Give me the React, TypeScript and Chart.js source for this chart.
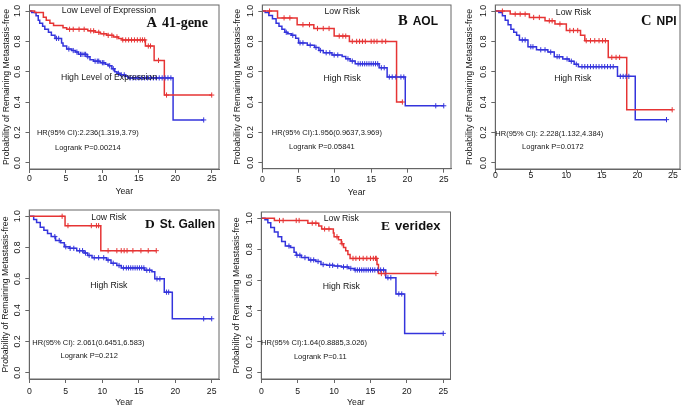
import React, { useEffect, useRef } from "react";
import { Chart, registerables } from "chart.js";
Chart.register(...registerables);

// ---------- shared axis data ----------
const xTicks = [0, 5, 10, 15, 20, 25];
const xTickLabels = ["0", "5", "10", "15", "20", "25"];
const yTicks = [0, 0.2, 0.4, 0.6, 0.8, 1.0];
const yTickLabels = ["0.0", "0.2", "0.4", "0.6", "0.8", "1.0"];
const yAxisTitle = "Probability of Remaining Metastasis-free";
const xAxisTitle = "Year";

// ---------- Panel A: 41-gene ----------
const lowA_t = [0, 0.7, 1.9, 2.3, 2.8, 3.3, 4.6, 5.1, 8.0, 9.0, 9.7, 10.6, 11.5, 12.2, 12.7, 15.9, 17.1, 18.5, 25.0];
const lowA_s = [1, 0.99, 0.96, 0.94, 0.92, 0.905, 0.89, 0.88, 0.87, 0.86, 0.85, 0.84, 0.83, 0.82, 0.81, 0.77, 0.675, 0.447, 0.447];
const lowA_c = [5.5, 6.0, 6.8, 7.5, 8.4, 8.8, 9.5, 10.2, 10.8, 11.3, 12.0, 12.8, 13.2, 13.6, 14.0, 14.4, 14.8, 15.2, 15.5, 15.8, 16.3, 16.6, 17.7, 18.8, 25.0];
const highA_t = [0, 0.3, 0.9, 1.2, 1.4, 1.8, 2.1, 2.6, 3.0, 3.5, 4.4, 4.6, 5.1, 5.8, 6.3, 6.7, 7.9, 8.3, 8.8, 9.7, 10.4, 10.8, 11.3, 11.7, 12.0, 12.4, 13.1, 13.5, 19.7, 23.9];
const highA_s = [1, 0.99, 0.97, 0.94, 0.92, 0.9, 0.88, 0.86, 0.84, 0.82, 0.79, 0.77, 0.75, 0.74, 0.73, 0.715, 0.7, 0.68, 0.67, 0.66, 0.65, 0.64, 0.62, 0.6, 0.59, 0.58, 0.57, 0.56, 0.283, 0.283];
const highA_c = [3.7, 4.0, 5.4, 6.0, 6.5, 7.0, 7.2, 7.5, 7.7, 8.0, 9.0, 9.3, 9.5, 10.0, 10.2, 11.0, 11.5, 12.2, 12.6, 13.0, 13.8, 14.2, 14.6, 15.0, 15.4, 15.8, 16.2, 16.6, 17.0, 17.4, 17.8, 18.2, 18.6, 19.0, 19.4, 23.9];

// ---------- Panel B: AOL ----------
const lowB_t = [0, 2.1, 4.8, 7.1, 9.9, 12.0, 18.5, 19.3];
const lowB_s = [1, 0.955, 0.91, 0.885, 0.835, 0.8, 0.4, 0.4];
const lowB_c = [1.0, 3.0, 3.8, 5.6, 6.5, 7.6, 8.4, 9.2, 10.6, 11.1, 11.5, 12.4, 13.0, 13.4, 13.8, 14.2, 15.0, 15.4, 15.8, 16.5, 17.0, 19.3];
const highB_t = [0, 0.4, 0.9, 1.4, 1.9, 2.3, 2.7, 3.1, 3.5, 4.0, 4.6, 5.0, 6.2, 7.2, 7.8, 8.4, 9.6, 11.0, 11.5, 12.1, 12.8, 16.1, 17.2, 19.7, 25.0];
const highB_s = [1, 0.99, 0.97, 0.95, 0.92, 0.9, 0.88, 0.86, 0.85, 0.84, 0.82, 0.79, 0.775, 0.76, 0.74, 0.725, 0.71, 0.7, 0.685, 0.67, 0.652, 0.626, 0.565, 0.375, 0.375];
const highB_c = [3.3, 4.2, 5.2, 5.6, 6.6, 7.4, 8.0, 8.8, 9.3, 9.9, 10.4, 11.8, 12.4, 13.2, 13.5, 13.8, 14.1, 14.4, 14.7, 15.0, 15.3, 15.6, 15.9, 16.4, 16.8, 17.5, 17.9, 18.4, 19.1, 19.5, 23.9, 25.0];

// ---------- Panel C: NPI ----------
const lowC_t = [0, 2.1, 4.8, 7.0, 8.4, 10.0, 12.0, 12.6, 15.9, 18.5, 24.9];
const lowC_s = [1, 0.98, 0.958, 0.936, 0.915, 0.872, 0.84, 0.805, 0.695, 0.35, 0.35];
const lowC_c = [1.0, 2.8, 3.5, 4.2, 5.4, 6.2, 7.6, 8.0, 9.1, 10.5, 11.0, 11.6, 12.8, 13.4, 14.0, 14.6, 15.1, 15.5, 16.4, 17.0, 17.5, 24.9];
const highC_t = [0, 0.5, 1.0, 1.4, 1.8, 2.2, 2.6, 3.0, 3.4, 4.6, 5.8, 7.4, 8.3, 9.5, 10.4, 11.1, 11.7, 17.2, 19.7, 24.1];
const highC_s = [1, 0.99, 0.97, 0.94, 0.91, 0.88, 0.86, 0.84, 0.81, 0.765, 0.745, 0.73, 0.7, 0.685, 0.67, 0.65, 0.634, 0.57, 0.285, 0.285];
const highC_c = [3.8, 4.2, 5.0, 5.3, 6.4, 7.0, 7.8, 8.7, 9.0, 10.1, 10.7, 11.4, 12.2, 12.6, 13.0, 13.4, 13.8, 14.2, 14.6, 15.0, 15.4, 15.8, 16.2, 16.6, 17.6, 18.0, 18.4, 18.8, 24.1];

// ---------- Panel D: St. Gallen ----------
const lowD_t = [0, 4.9, 9.8, 17.4];
const lowD_s = [1, 0.94, 0.78, 0.78];
const lowD_c = [4.5, 5.3, 8.5, 9.2, 9.5, 10.8, 12.0, 12.6, 13.0, 13.4, 14.2, 15.3, 16.3, 17.4];
const highD_t = [0, 0.6, 1.0, 1.5, 2.0, 2.5, 3.0, 3.6, 4.3, 4.8, 5.5, 6.5, 7.5, 8.0, 8.6, 10.6, 11.2, 12.0, 12.6, 15.8, 16.8, 17.2, 18.5, 19.6, 25.0];
const highD_s = [1, 0.98, 0.96, 0.93, 0.91, 0.89, 0.87, 0.845, 0.83, 0.805, 0.795, 0.78, 0.765, 0.75, 0.735, 0.72, 0.7, 0.685, 0.67, 0.655, 0.645, 0.6, 0.515, 0.345, 0.345];
const highD_c = [3.5, 4.1, 5.0, 5.6, 6.1, 6.9, 7.3, 7.7, 8.2, 8.9, 9.5, 10.2, 10.8, 11.5, 12.3, 12.9, 13.3, 13.6, 13.9, 14.2, 14.5, 14.8, 15.1, 15.4, 15.7, 16.1, 16.5, 17.5, 17.9, 18.8, 19.1, 23.9, 25.0];

// ---------- Panel E: veridex ----------
const lowE_t = [0, 1.8, 6.4, 7.9, 8.3, 9.9, 10.0, 10.6, 11.0, 11.3, 11.6, 11.9, 12.2, 15.9, 16.1, 24.0];
const lowE_s = [1, 0.985, 0.968, 0.95, 0.93, 0.905, 0.88, 0.86, 0.835, 0.81, 0.79, 0.765, 0.74, 0.7, 0.642, 0.642];
const lowE_c = [2.5, 3.0, 4.8, 5.2, 7.0, 7.5, 8.7, 9.3, 10.4, 11.1, 12.6, 13.0, 13.5, 14.0, 14.5, 15.0, 15.4, 15.7, 15.8, 16.5, 17.0, 24.0];
const highE_t = [0, 0.5, 0.9, 1.3, 1.8, 2.3, 2.8, 3.3, 4.0, 4.5, 4.8, 5.5, 6.5, 7.5, 8.2, 9.0, 10.0, 11.0, 12.0, 12.8, 17.1, 18.5, 19.7, 25.0];
const highE_s = [1, 0.99, 0.97, 0.94, 0.91, 0.88, 0.85, 0.82, 0.81, 0.78, 0.76, 0.745, 0.73, 0.72, 0.7, 0.695, 0.69, 0.685, 0.675, 0.665, 0.615, 0.51, 0.255, 0.255];
const highE_c = [3.8, 4.9, 5.3, 6.0, 6.8, 7.2, 7.8, 8.5, 9.4, 9.8, 10.5, 11.3, 11.8, 12.3, 12.9, 13.2, 13.5, 13.8, 14.1, 14.4, 14.7, 15.0, 15.3, 15.6, 16.0, 16.4, 16.8, 17.4, 17.8, 18.9, 19.3, 25.0];

// ---------- styles ----------
const RED = "#e63434";
const BLUE = "#3434dc";
const FRAME = "#666666";
const TEXT = "#161616";
const SANS = '"Liberation Sans", Arial, Helvetica, sans-serif';
const SERIF = '"Liberation Serif", "Times New Roman", serif';
const SMALL = 8.7;
const STAT = 7.5;

type Series = { t: number[]; s: number[]; c: number[] };
type Spec = {
  letter: string;
  name: string;
  nameSerif: boolean;
  letterSize: number;
  nameSize: number;
  lowLabel: string;
  highLabel: string;
  hr: string;
  logrank: string;
  low: Series;
  high: Series;
  box: { x: number; y: number; w: number; h: number };
  area: { l: number; t: number; r: number; b: number };
  lowPos: [number, number];
  highPos: [number, number];
  hrPos: [number, number];
  lrPos: [number, number];
  titleOff: [number, number];
  tickPad: number;
  yearOff: number | null;
  yTitleOff: number;
};

const specs: Spec[] = [
  {
    letter: "A", name: "41-gene", nameSerif: true, letterSize: 14.5, nameSize: 14,
    lowLabel: "Low Level of Expression", highLabel: "High Level of Expression",
    hr: "HR(95% CI):2.236(1.319,3.79)", logrank: "Logrank P=0.00214",
    low: { t: lowA_t, s: lowA_s, c: lowA_c }, high: { t: highA_t, s: highA_s, c: highA_c },
    box: { x: 0, y: 0, w: 228, h: 200 }, area: { l: 29.5, t: 0, r: 219, b: 169 },
    lowPos: [10.9, 1.0], highPos: [10.9, 0.56], hrPos: [8.0, 0.2], lrPos: [8.0, 0.1],
    titleOff: [117, 21.5], tickPad: 1.5, yearOff: 22.7, yTitleOff: 23,
  },
  {
    letter: "B", name: "AOL", nameSerif: false, letterSize: 14.5, nameSize: 12,
    lowLabel: "Low Risk", highLabel: "High Risk",
    hr: "HR(95% CI):1.956(0.9637,3.969)", logrank: "Logrank P=0.05841",
    low: { t: lowB_t, s: lowB_s, c: lowB_c }, high: { t: highB_t, s: highB_s, c: highB_c },
    box: { x: 228, y: 0, w: 228, h: 200 }, area: { l: 262.3, t: 0, r: 451, b: 168.7 },
    lowPos: [11.0, 0.995], highPos: [11.0, 0.556], hrPos: [8.9, 0.199], lrPos: [8.2, 0.103],
    titleOff: [135.7, 19.5], tickPad: 3, yearOff: 24, yTitleOff: 24.6,
  },
  {
    letter: "C", name: "NPI", nameSerif: false, letterSize: 14.5, nameSize: 12,
    lowLabel: "Low Risk", highLabel: "High Risk",
    hr: "HR(95% CI): 2.228(1.132,4.384)", logrank: "Logrank P=0.0172",
    low: { t: lowC_t, s: lowC_s, c: lowC_c }, high: { t: highC_t, s: highC_s, c: highC_c },
    box: { x: 456, y: 0, w: 229, h: 200 }, area: { l: 495.3, t: 0.5, r: 684, b: 169 },
    lowPos: [11.0, 0.99], highPos: [10.9, 0.557], hrPos: [7.6, 0.193], lrPos: [8.1, 0.106],
    titleOff: [145.7, 19.5], tickPad: -1.5, yearOff: null, yTitleOff: 26,
  },
  {
    letter: "D", name: "St. Gallen", nameSerif: false, letterSize: 13.5, nameSize: 12,
    lowLabel: "Low Risk", highLabel: "High Risk",
    hr: "HR(95% CI): 2.061(0.6451,6.583)", logrank: "Logrank P=0.212",
    low: { t: lowD_t, s: lowD_s, c: lowD_c }, high: { t: highD_t, s: highD_s, c: highD_c },
    box: { x: 0, y: 200, w: 228, h: 208 }, area: { l: 29.3, t: 210, r: 219, b: 379 },
    lowPos: [10.9, 0.99], highPos: [10.9, 0.555], hrPos: [8.1, 0.19], lrPos: [8.2, 0.105],
    titleOff: [115.7, 17.5], tickPad: 4, yearOff: 23.6, yTitleOff: 24,
  },
  {
    letter: "E", name: "veridex", nameSerif: false, letterSize: 13.5, nameSize: 13,
    lowLabel: "Low Risk", highLabel: "High Risk",
    hr: "HR(95% CI):1.64(0.8885,3.026)", logrank: "Logrank P=0.11",
    low: { t: lowE_t, s: lowE_s, c: lowE_c }, high: { t: highE_t, s: highE_s, c: highE_c },
    box: { x: 228, y: 200, w: 228, h: 208 }, area: { l: 261.3, t: 212, r: 450.5, b: 379 },
    lowPos: [11.0, 0.995], highPos: [11.0, 0.557], hrPos: [7.25, 0.193], lrPos: [8.1, 0.1],
    titleOff: [119.7, 17.5], tickPad: 4, yearOff: 23.3, yTitleOff: 25,
  },
];

function survAt(t: number[], s: number[], x: number) {
  let v = s[0];
  for (let i = 0; i < t.length; i++) if (t[i] <= x) v = s[i];
  return v;
}

function Panel({ spec }: { spec: Spec }) {
  const ref = useRef<HTMLCanvasElement | null>(null);
  useEffect(() => {
    const { box, area } = spec;
    const L = area.l - box.x;
    const T = area.t - box.y;
    const R = area.r - box.x;
    const B = area.b - box.y;

    const curve = (ser: Series, color: string) => ({
      data: ser.t.map((x, i) => ({ x, y: ser.s[i] })),
      stepped: "before" as const,
      borderColor: color,
      borderWidth: 1.5,
      pointRadius: 0,
      fill: false,
      order: 1,
    });
    const censor = (ser: Series, color: string) => ({
      data: ser.c.map((x) => ({ x, y: survAt(ser.t, ser.s, x) })),
      showLine: false,
      pointStyle: "cross" as const,
      pointRadius: 2.6,
      borderColor: color,
      backgroundColor: color,
      borderWidth: 1,
      order: 0,
    });

    const textPlugin = {
      id: "kmText",
      afterDraw(chart: any) {
        const ctx = chart.ctx as CanvasRenderingContext2D;
        const ca = chart.chartArea;
        const xs = chart.scales.x;
        const ys = chart.scales.y;
        ctx.save();
        // frame
        ctx.strokeStyle = FRAME;
        ctx.lineWidth = 1;
        ctx.strokeRect(ca.left, ca.top, ca.right - ca.left, ca.bottom - ca.top);
        ctx.fillStyle = TEXT;
        ctx.font = `${SMALL}px ${SANS}`;
        // rotated y tick labels
        yTicks.forEach((v, i) => {
          const py = ys.getPixelForValue(v);
          ctx.save();
          ctx.translate(ca.left - 11.5, py);
          ctx.rotate(-Math.PI / 2);
          ctx.textAlign = "center";
          ctx.textBaseline = "middle";
          ctx.fillText(yTickLabels[i], 0, 0);
          ctx.restore();
        });
        // y title
        ctx.save();
        ctx.translate(ca.left - spec.yTitleOff, (ca.top + ca.bottom) / 2);
        ctx.rotate(-Math.PI / 2);
        ctx.textAlign = "center";
        ctx.textBaseline = "middle";
        ctx.fillText(yAxisTitle, 0, 0);
        ctx.restore();
        // x title
        if (spec.yearOff !== null) {
          ctx.textAlign = "center";
          ctx.textBaseline = "middle";
          ctx.fillText(xAxisTitle, (ca.left + ca.right) / 2, ca.bottom + spec.yearOff);
        }
        // annotations at data coordinates
        ctx.textAlign = "center";
        ctx.textBaseline = "middle";
        const put = (txt: string, p: [number, number]) =>
          ctx.fillText(txt, xs.getPixelForValue(p[0]), ys.getPixelForValue(p[1]));
        put(spec.lowLabel, spec.lowPos);
        put(spec.highLabel, spec.highPos);
        ctx.font = `${STAT}px ${SANS}`;
        put(spec.hr, spec.hrPos);
        put(spec.logrank, spec.lrPos);
        // panel title
        ctx.textAlign = "left";
        ctx.textBaseline = "alphabetic";
        const tx = ca.left + spec.titleOff[0];
        const ty = ca.top + spec.titleOff[1];
        ctx.fillStyle = "#111";
        ctx.font = `bold ${spec.letterSize}px ${SERIF}`;
        ctx.fillText(spec.letter, tx, ty);
        const lw = ctx.measureText(spec.letter).width;
        ctx.font = `bold ${spec.nameSize}px ${spec.nameSerif ? SERIF : SANS}`;
        ctx.fillText(spec.name, tx + lw + 5, ty);
        ctx.restore();
      },
    };

    const chart = new Chart(ref.current as HTMLCanvasElement, {
      type: "line",
      data: {
        datasets: [
          curve(spec.low, RED),
          curve(spec.high, BLUE),
          censor(spec.low, RED),
          censor(spec.high, BLUE),
        ] as any,
      },
      options: {
        responsive: false,
        animation: false,
        events: [],
        layout: { padding: { left: 0, top: T, right: box.w - R, bottom: 0 } },
        plugins: { legend: { display: false }, tooltip: { enabled: false } },
        scales: {
          x: {
            type: "linear",
            min: 0,
            max: 26,
            afterBuildTicks: (s: any) => {
              s.ticks = xTicks.map((v) => ({ value: v }));
            },
            afterFit: (s: any) => {
              s.height = box.h - B;
            },
            grid: { drawOnChartArea: false, drawTicks: true, tickLength: 4, color: FRAME },
            border: { display: true, color: FRAME },
            ticks: {
              autoSkip: false,
              maxRotation: 0,
              minRotation: 0,
              padding: spec.tickPad,
              color: TEXT,
              font: { family: SANS, size: SMALL, lineHeight: 1 },
              callback: (_v: any, i: number) => xTickLabels[i],
            },
          },
          y: {
            type: "linear",
            min: -0.04,
            max: 1.04,
            afterBuildTicks: (s: any) => {
              s.ticks = yTicks.map((v) => ({ value: v }));
            },
            afterFit: (s: any) => {
              s.width = L;
            },
            grid: { drawOnChartArea: false, drawTicks: true, tickLength: 4, color: FRAME },
            border: { display: true, color: FRAME },
            ticks: { display: false },
          },
        },
      } as any,
      plugins: [textPlugin],
    });
    return () => chart.destroy();
  }, [spec]);

  return (
    <canvas
      ref={ref}
      width={spec.box.w}
      height={spec.box.h}
      style={{ position: "absolute", left: spec.box.x, top: spec.box.y, width: spec.box.w, height: spec.box.h }}
    />
  );
}

export default function App() {
  return (
    <div style={{ position: "absolute", left: 0, top: 0, width: 685, height: 408, background: "#fff", overflow: "hidden" }}>
      {specs.map((s) => (
        <Panel key={s.letter} spec={s} />
      ))}
    </div>
  );
}
